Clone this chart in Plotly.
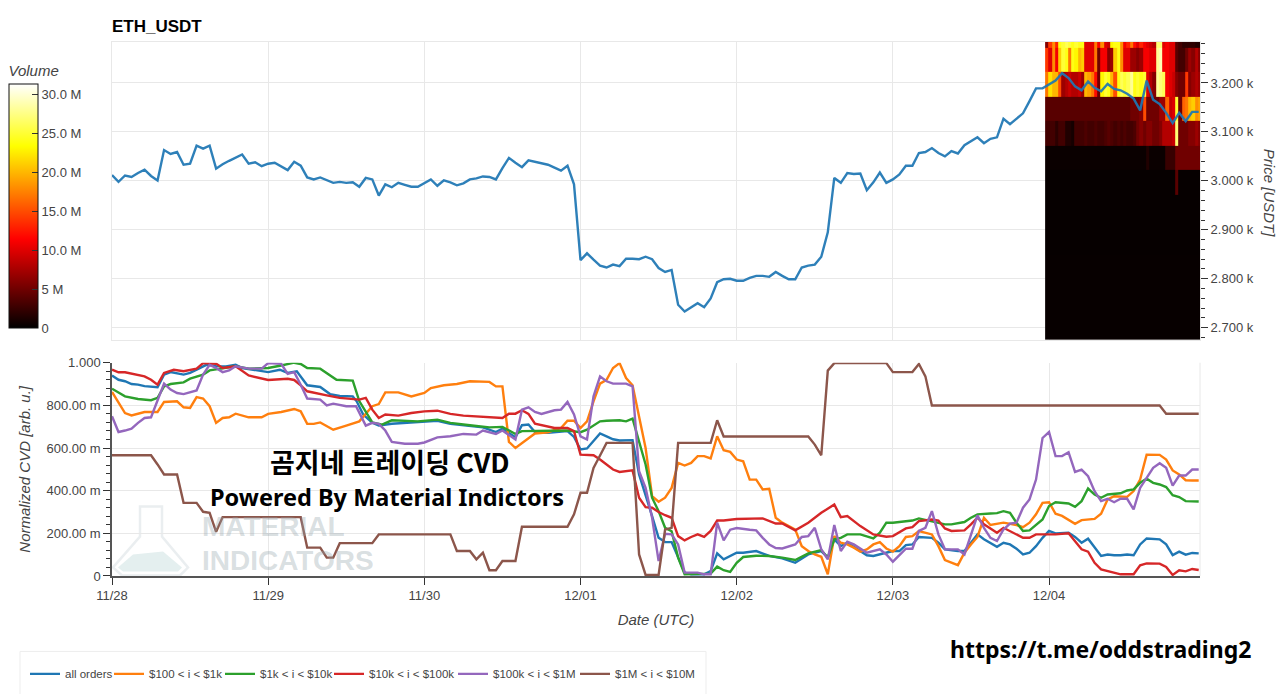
import pandas as pd
import plotly.graph_objects as go
from plotly.subplots import make_subplots

W, H = 1280, 694
L, R, T, B = 112, 1200, 42, 576.5
START = pd.Timestamp("2025-11-28 00:00")

def t(hours):
    return [START + pd.Timedelta(hours=float(h)) for h in hours]

PRICE = [3012,2998,3011,3008,3016,3023,3010,3001,3063,3055,3059,3033,3035,3072,3066,3072,3025,3034,3041,3048,3054,3035,3038,3030,
         3035,3037,3030,3022,3039,3031,3007,3003,3007,3001,2996,2998,2996,2997,2988,3006,3003,2970,2993,2987,2996,2992,2988,2988,
         2995,3003,2990,3001,2997,2991,2995,3003,3005,3009,3008,3003,3026,3047,3037,3028,3042,3039,3035,3033,3027,3021,3031,2993,
         2838,2852,2839,2827,2823,2829,2826,2841,2841,2840,2845,2840,2822,2814,2818,2747,2733,2742,2750,2742,2760,2793,2799,2800,
         2796,2796,2802,2806,2806,2804,2814,2806,2799,2799,2823,2827,2829,2845,2895,3006,2996,3016,3014,3015,2981,2997,3017,2996,
         3003,3013,3031,3031,3057,3059,3067,3057,3050,3061,3056,3073,3081,3089,3077,3086,3089,3127,3116,3127,3138,3163,3189,3189,
         3197,3205,3220,3210,3193,3185,3203,3190,3183,3198,3188,3185,3178,3168,3144,3205,3166,3157,3139,3118,3139,3122,3141,3141]

ALL_H = [0,1,2,3,4,5,7,8,9,11,12,13,14.5,16,17.5,19,20,21.7,24,25.8,27,28.4,30,32,33.5,35,37,37.6,38.6,40,41,43,45,47,
         50,52,55,57,59,60,62,63,64,65,67,69,70,71,72,73,74,75,76,77,78,80,81,82,83,84,85,86,87,88,89,91,92,93,94,96,
         97,99,101,103,105,107,109,110,111,112,113,114,115,116,117,118,120,121,122,123,124,126,127,128,130,131,132,133,134,135,136,137,138,139,140,141,142,143,144,
         145,147,148,149,150,151,152,153,154,155,156,157,158,159,161,162,163,164,165,166,167]
ALL_V = [.94,.92,.913,.90,.897,.89,.885,.944,.956,.944,.952,.967,.99,.984,.983,.99,.975,.967,.956,.967,.952,.96,.894,.886,.853,.844,.842,.819,.757,.718,.705,.714,.718,.722,
         .728,.713,.705,.697,.675,.691,.65,.707,.71,.675,.671,.674,.679,.652,.593,.598,.632,.668,.655,.641,.635,.637,.476,.382,.281,.179,.159,.159,.086,.016,.008,.008,.023,.106,.078,.109,
         .109,.117,.094,.083,.062,.101,.117,.086,.172,.14,.156,.136,.117,.097,.094,.101,.117,.117,.145,.148,.183,.179,.156,.125,.117,.117,.156,.195,.172,.153,.137,.156,.148,.128,.101,.109,.14,.179,.211,
         .20,.203,.183,.156,.175,.133,.094,.101,.097,.097,.101,.097,.148,.176,.172,.148,.098,.114,.10,.108,.106]

ORANGE_H = [0,1,2,3,5,7,8,10,11,12,13,14,15,16,17,18,19,21,23,24,26,28,29,30,31,32,33,34,36,38,40,41,42,44,46,48,
            49,51,53,55,58,59,60,61,62,63,65,67,69,70,71,72,73,74,75,76,77,78,79,80,81,82,83,84,85,86,87,88,89,90,91,92,93,94,95,96,97,
            98,99,100,101,102,103,105,106,107,108,109,110,111,112,113,114,115,116,117,118,119,120,121,122,123,124,126,127,128,130,131,132,133,134,135,137,139,140,141,142,143,144,
            145,146,147,148,149,151,152,153,154,155,156,157,158,159,161,162,163,164,165,166,167]
ORANGE_V = [.863,.811,.764,.753,.769,.769,.816,.819,.791,.788,.839,.832,.796,.718,.741,.744,.761,.744,.744,.76,.769,.783,.772,.714,.713,.72,.702,.686,.705,.725,.796,.806,.861,.861,.842,.858,
            .881,.894,.90,.913,.91,.889,.889,.629,.60,.624,.668,.674,.694,.728,.728,.694,.725,.819,.902,.92,.975,.998,.928,.894,.741,.60,.374,.348,.367,.413,.53,.518,.53,.562,.562,.551,.655,.59,.582,.546,.538,
            .452,.452,.406,.409,.273,.25,.218,.14,.117,.101,.09,.008,.187,.156,.148,.133,.114,.125,.148,.159,.129,.114,.14,.183,.187,.211,.195,.14,.075,.051,.109,.148,.183,.273,.239,.25,.239,.229,.25,.289,.343,.346,
            .292,.282,.265,.245,.262,.268,.292,.359,.374,.371,.371,.398,.452,.569,.568,.546,.495,.476,.449,.448,.448]

GREEN_H = [0,1,2,4,6,7,8,9,11,12,13,14,15,17,19,21,24,26,28,29,30,32,33.5,34.5,37,38,40,41.5,43,47,
           50,52,55,58,60,62,63,66,70,72,73,75,76,78,79,80,81,82,83,84,85,86,87,88,92,93,94,95,96,97,
           99,101,103,105,107,109,110,111,112,113,115,117,118,119,120,122,123,124,128,129,130,131,132,133,135,136,137,138,139,140,141,142,143,144,145,
           147,148,149,150,151,152,153,155,156,157,158,159,160,161,162,163,164,165,167]
GREEN_V = [.878,.858,.842,.83,.824,.835,.889,.90,.908,.925,.934,.944,.964,.972,.983,.972,.975,.987,1.0,.994,.975,.972,.94,.92,.916,.82,.72,.71,.73,.725,
           .733,.718,.707,.697,.699,.666,.679,.679,.682,.674,.686,.725,.728,.73,.725,.738,.624,.523,.367,.304,.226,.21,.086,.008,.011,.044,.027,.019,.062,.089,
           .095,.094,.086,.075,.106,.122,.086,.172,.179,.195,.195,.176,.203,.25,.25,.257,.26,.27,.242,.242,.246,.253,.273,.289,.293,.295,.304,.296,.25,.211,.214,.239,.265,.328,.346,
           .34,.324,.351,.41,.382,.367,.382,.388,.401,.406,.437,.456,.437,.429,.417,.379,.37,.351,.349]

RED_H = [0,1,2,4,5,6,7,8,9.5,11,13,14,16,17,19,21,24,27,28,29,30,33,35,38,39,40,41,42,44,46,48,
         50,52,54,58,60,61,62,63,64,65,66,68,70,71,72,74,75,76,77,78,80,81,82,83,84,85,86,87,88,89,90,91,92,93,94,96,
         98,100,102,103,105,107,109,111,112,113,115,117,119,120,122,123,124,126,127,128,129,131,132,133,134,136,137,139,140,141,142,144,
         145,147,148,149,150,151,152,153,155,157,158,159,161,162,163,164,165,166,167]
RED_V = [.967,.955,.955,.944,.936,.92,.897,.952,.967,.96,.972,.998,.995,.975,.983,.94,.919,.925,.919,.894,.866,.847,.835,.827,.835,.78,.741,.757,.752,.764,.772,
         .775,.76,.752,.746,.741,.761,.761,.777,.76,.714,.707,.694,.694,.679,.569,.566,.546,.523,.499,.488,.495,.367,.323,.32,.30,.285,.273,.187,.167,.183,.195,.183,.211,.26,.26,.267,
         .267,.27,.246,.246,.214,.25,.296,.335,.276,.281,.234,.195,.184,.187,.223,.229,.257,.265,.26,.223,.211,.214,.242,.273,.242,.203,.226,.195,.179,.179,.195,.195,
         .195,.20,.164,.125,.114,.062,.031,.023,.008,.008,.05,.059,.058,.042,.005,.027,.022,.033,.028]

PURPLE_H = [0,1,2,3,4,5,6,7,8,9,10,11,13,14,15,16,17,18,19,21,23,24,26,27,28,29,30,32,33,34,36,37.5,39,40,41,42,43,45,47,48,
            50,52,54,56,57,59,60,62,63,64,65,66,68,69,70,71,72,73,74,75,76,77,79,80,81,82,83,84,85,86,87,88,90,91,92,93,94,95,96,
            98,99,100,101,102,103,105,106,107,108,109,110,111,112,113,114,116,118,119,120,122,123,124,125,126,127,128,130,131,132,133,134,135,136,137,138,139,140,141,142,143,144,
            145,146,147,148,149,150,151,152,153,154,155,156,157,158,159,160,161,162,163,164,165,166,167]
PURPLE_V = [.749,.675,.682,.691,.718,.741,.744,.822,.902,.874,.858,.853,.87,.944,.99,.975,.956,.964,.983,.972,.972,.998,.995,.948,.956,.897,.832,.827,.80,.808,.796,.796,.705,.718,.713,.682,.629,.62,.62,.626,
            .65,.655,.666,.663,.682,.666,.682,.64,.78,.791,.769,.76,.777,.78,.816,.757,.655,.64,.842,.936,.913,.902,.902,.889,.491,.413,.273,.07,.198,.195,.148,.016,.016,.008,.008,.25,.167,.217,.225,
            .217,.214,.179,.148,.131,.129,.148,.183,.187,.226,.125,.078,.239,.117,.161,.148,.109,.125,.101,.067,.128,.128,.211,.226,.304,.195,.125,.125,.101,.195,.284,.226,.179,.164,.218,.246,.25,.32,.359,.452,.647,.675,
            .562,.562,.58,.488,.499,.468,.398,.351,.362,.346,.362,.362,.312,.413,.46,.507,.529,.507,.424,.471,.471,.499,.499]

BROWN_H = [0,6,7,8,10,11,13,14,15,16,17,29,30,32,33,34,35,40,41,48,52,53,55,56,57,58,59,60,62,63,70,71,72,73,74,75,76,80,81,82,84,85,86,87,92,93,94,107,108,109,110,111,119,120,123,124,125,126,161,162,167]
BROWN_V = [.566,.566,.523,.476,.476,.343,.343,.301,.296,.207,.276,.276,.133,.133,.086,.086,.154,.154,.195,.195,.195,.117,.117,.078,.109,.027,.027,.07,.07,.231,.231,.289,.39,.39,.507,.565,.624,.624,.101,.005,.005,.218,.226,.624,.624,.73,.654,.654,.616,.566,.963,.998,.998,.956,.956,.994,.936,.799,.799,.761,.761]

SERIES = [("all orders", ALL_H, ALL_V, "#1f77b4", 39), ("$100 < i < $1k", ORANGE_H, ORANGE_V, "#ff7f0e", 66),
          ("$1k < i < $10k", GREEN_H, GREEN_V, "#2ca02c", 64), ("$10k < i < $100k", RED_H, RED_V, "#d62728", 79),
          ("$100k < i < $1M", PURPLE_H, PURPLE_V, "#9467bd", 77), ("$1M < i < $10M", BROWN_H, BROWN_V, "#8c564b", 83)]

# Volume profile: columns of half an hour, rows from the lowest price bin to the highest (millions)
HEAT_START = 143.4
HEAT_COLS = 48
PRICE_EDGES = [2675.5, 2971, 3022, 3071, 3122, 3171, 3222, 3271, 3284]
V_LOW = [.3] * 48
V_R6 = [.3] * 40 + [4] + [.3] * 7
V_R5 = [.5] * 31 + [1.5] + [.5] * 5 + [2.5, 2.5, 2.5] + [5] * 8
V_R4 = [3,3,3,2,3,3,1.5,1.5,1,3,3,3,3.5,3,3,3.5,3,3,3.5,4,3.5,3,3.5,3,3.5,3,3,3.5,5,6,5,6,6,5,5,6,8,8,8,9,27,5,5,5,6,6,7,6]
V_R3 = [4] * 26 + [5,5,5,6,15,5,5,5,5,7,7,16,9,10,25,5,16,17,20,21,18,19]
V_R2 = [17,22,20,20,15,7,8,9,8,8,9,7,20,19,17,12,5,23,25,24,20,15,24,26,25,26,28,24,25,24,25,10,8,6,28,27,26,11,10,9,6,5,5,14,6,7,8,7]
V_R1 = [14,10,18,11,21,25,24,17,24,23,20,21,10,10,10,17,5,11,11,6,7,21,24,18,10,10,7,7,6,7,11,11,10,10,28,29,11,11,10,10,4,3,3,5,7,6,8,6]
V_R0 = [6,14,18,13,24,25,26,25,24,25,24,24,10,10,10,17,11,18,10,9,23,24,24,18,11,13,17,12,10,13,11,10,9,8,27,27,10,11,10,10,4,3,2,2,2,2,1.5,1.5]
HEAT_Z = [V_LOW, V_R6, V_R5, V_R4, V_R3, V_R2, V_R1, V_R0]
COLOR_TICKS = [0, 5, 10, 15, 20, 25, 30]
COLOR_LABELS = ["0", "5 M", "10.0 M", "15.0 M", "20.0 M", "25.0 M", "30.0 M"]

CVD_TICKS = [0, .2, .4, .6, .8, 1]
CVD_LABELS = ["0", "200.00 m", "400.00 m", "600.00 m", "800.00 m", "1.000"]
PRICE_TICKS = [2700, 2800, 2900, 3000, 3100, 3200]
PRICE_LABELS = ["2.700 k", "2.800 k", "2.900 k", "3.000 k", "3.100 k", "3.200 k"]

SANS = "Liberation Sans"
GRID = "#e8e8e8"
TXT = "#444444"
TICK = dict(family=SANS, size=13, color=TXT)
LABEL = dict(family=SANS, size=15, style="italic", color=TXT)

def px(x): return (x - L) / (R - L)
def py(y): return 1 - (y - T) / (B - T)

fig = make_subplots(rows=2, cols=1, shared_xaxes=False)
edges = t([HEAT_START + .5 * i for i in range(HEAT_COLS + 1)])
fig.add_trace(go.Heatmap(x=edges, y=PRICE_EDGES, z=HEAT_Z, zmin=0, zmax=31.3, hoverongaps=False,
    colorscale=[[0, "#000000"], [.365, "#ff0000"], [.746, "#ffff00"], [1, "#ffffff"]],
    colorbar=dict(x=px(9), xanchor="left", y=py(62), yanchor="top", lenmode="pixels", len=266,
                  thicknessmode="pixels", thickness=29, xpad=0, ypad=0, outlinecolor="#111", outlinewidth=1,
                  ticks="inside", ticklen=6, tickcolor="#333", tickvals=COLOR_TICKS, ticktext=COLOR_LABELS,
                  tickfont=TICK, title=dict(text="Volume", side="top", font=LABEL))),
    row=1, col=1)
fig.add_trace(go.Scatter(x=t(range(len(PRICE))), y=PRICE, mode="lines", line=dict(color="#1f77b4", width=2.4),
                         opacity=.93, showlegend=False), row=1, col=1)
for name, hrs, vals, col, lw in SERIES:
    fig.add_trace(go.Scatter(x=t(hrs), y=vals, mode="lines", name=name, legendwidth=lw, line=dict(color=col, width=2.4)), row=2, col=1)

xrange_ = [START, START + pd.Timedelta(hours=167.2)]
fig.update_xaxes(range=xrange_, type="date", dtick=86400000, tick0=START, showgrid=True, gridcolor=GRID, gridwidth=1, zeroline=False)
fig.update_layout(
    width=W, height=H, margin=dict(l=L, r=W - R, t=T, b=H - B, pad=0, autoexpand=False), paper_bgcolor="white", plot_bgcolor="white", autosize=False,
    xaxis=dict(domain=[0, 1], showticklabels=False, ticks="", showline=True, linecolor=GRID, mirror=True, automargin=False),
    yaxis=dict(domain=[py(340), 1], side="right", range=[2675.5, 3283.7], tickvals=PRICE_TICKS, ticktext=PRICE_LABELS,
               showgrid=True, gridcolor=GRID, zeroline=False, showline=True, linecolor=GRID, mirror=True, automargin=False,
               ticks="outside", ticklen=7, tickcolor="#333", tickfont=TICK,
               minor=dict(dtick=20, tick0=2700, ticks="outside", ticklen=4, tickcolor="#333", showgrid=False)),
    xaxis2=dict(domain=[0, 1], tickformat="%m/%d", showline=True, linecolor="#555", linewidth=1.5, automargin=False,
                ticks="outside", ticklen=7, tickcolor="#333", tickfont=TICK,
                title=dict(text="Date (UTC)", font=LABEL, standoff=12)),
    yaxis2=dict(domain=[0, py(363)], range=[0, 1], tickvals=CVD_TICKS, ticktext=CVD_LABELS, automargin=False,
                showgrid=True, gridcolor=GRID, zeroline=False, showline=True, linecolor="#555", linewidth=1.5,
                ticks="outside", ticklen=7, tickcolor="#333", tickfont=TICK,
                minor=dict(dtick=.04, tick0=0, ticks="outside", ticklen=4, tickcolor="#333", showgrid=False),
                title=dict(text="Normalized CVD [arb. u.]", font=LABEL, standoff=12)),
    legend=dict(orientation="h", x=px(25), xanchor="left", y=py(660), yanchor="top", bgcolor="rgba(0,0,0,0)",
                borderwidth=0, font=dict(family=SANS, size=11.5, color=TXT), itemwidth=30),
    showlegend=True,
)

def note(x, y, text, size, family, color="#000", anchor="left", bold=True, angle=0, italic=False):
    fig.add_annotation(xref="paper", yref="paper", x=px(x), y=py(y), text=f"<b>{text}</b>" if bold else text, showarrow=False,
                       xanchor=anchor, yanchor="middle", textangle=angle,
                       font=dict(family=family, size=size, color=color, style="italic" if italic else "normal"))

note(110, 26, "ETH_USDT", 17, SANS)
note(1269, 193, "Price [USDT]", 15, SANS, TXT, "center", bold=False, angle=90, italic=True)
note(200, 527, "MATERIAL", 28, SANS, "rgba(150,165,172,.36)")
note(200, 561, "INDICATORS", 28, SANS, "rgba(150,165,172,.36)")
note(390, 462, "곰지네 트레이딩 CVD", 27, "Noto Sans CJK KR", anchor="center")
note(386.5, 497, "Powered By Material Indictors", 23.5, "Noto Sans", anchor="center")
note(1100, 650, "https://t.me/oddstrading2", 23, "Noto Sans", anchor="center")

def path(points):
    return "M " + " L ".join(f"{px(a):.5f},{py(b):.5f}" for a, b in points) + " Z"

FLASK = [(140, 507), (162, 507), (162, 537), (188, 568), (180, 576), (122, 576), (113, 568), (140, 537)]
LIQUID = [(118, 568), (133, 555), (163, 552), (182, 568), (178, 572), (123, 572)]
fig.add_shape(type="path", xref="paper", yref="paper", path=path(FLASK), line=dict(color="#eaeef0", width=2.5), layer="below")
fig.add_shape(type="path", xref="paper", yref="paper", path=path(LIQUID), fillcolor="#e4efef", line=dict(width=0), layer="below")
fig.add_shape(type="line", xref="paper", yref="paper", x0=px(1200), x1=px(1200), y0=py(363), y1=py(576.5),
              line=dict(color=GRID, width=1), layer="below")
fig.add_shape(type="rect", xref="paper", yref="paper", x0=px(20), x1=px(706), y0=py(652), y1=py(700),
              line=dict(color="#ededed", width=1), layer="below")

fig.write_html("out.html", config=dict(displayModeBar=False),
               post_script="document.body.style.margin='0';document.body.style.overflow='hidden';")
